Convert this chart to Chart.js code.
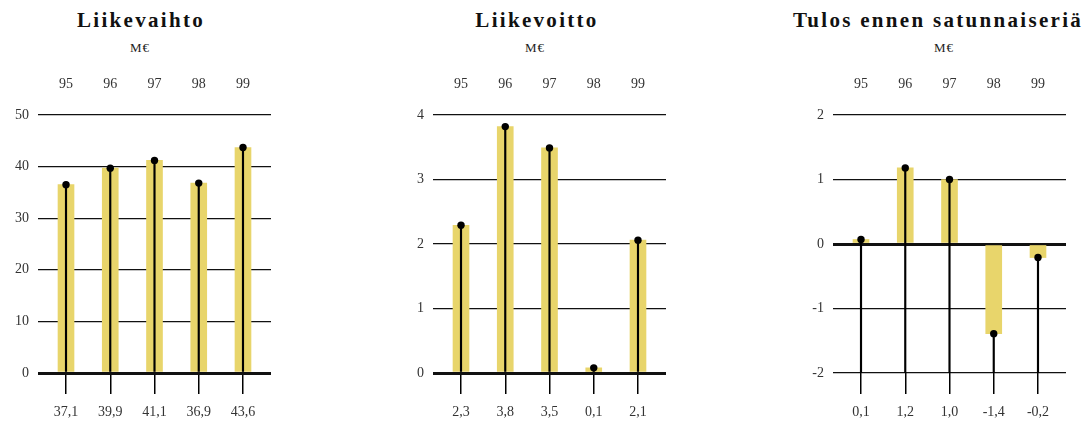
<!DOCTYPE html>
<html lang="fi">
<head>
<meta charset="utf-8">
<script src="https://cdn.jsdelivr.net/npm/chart.js@4.4.1/dist/chart.umd.min.js"></script>
<style>
body{margin:0;background:#fff;}
#pagina{position:relative;width:1088px;height:421px;overflow:hidden;font-family:"Liberation Serif",serif;}
.titulo{position:absolute;top:8px;transform:translateX(-50%);white-space:nowrap;font-weight:bold;font-size:21px;letter-spacing:2.3px;line-height:24px;color:#111;}
.unidade{position:absolute;top:41px;transform:translateX(-50%);font-size:13px;letter-spacing:1px;line-height:14px;color:#222;}
.painel{position:absolute;top:60px;width:280px;height:361px;}
</style>
</head>
<body>
<div id="pagina">
    <div class="titulo" style="left:141px">Liikevaihto</div>
    <div class="unidade" style="left:140px">M€</div>
    <div class="painel" style="left:0px"><canvas id="liikevaihto"></canvas></div>

    <div class="titulo" style="left:537px">Liikevoitto</div>
    <div class="unidade" style="left:535px">M€</div>
    <div class="painel" style="left:395px"><canvas id="liikevoitto"></canvas></div>

    <div class="titulo" style="left:938px">Tulos ennen satunnaiseriä</div>
    <div class="unidade" style="left:944px">M€</div>
    <div class="painel" style="left:795px"><canvas id="tulos"></canvas></div>
</div>

<script>
// ==========================================================
// Dados
// ==========================================================

const anos = ["95", "96", "97", "98", "99"];

const liikevaihto = [36.5, 39.7, 41.2, 36.8, 43.7];
const liikevaihtoRotulos = ["37,1", "39,9", "41,1", "36,9", "43,6"];

const liikevoitto = [2.29, 3.82, 3.49, 0.08, 2.06];
const liikevoittoRotulos = ["2,3", "3,8", "3,5", "0,1", "2,1"];

const tulos = [0.07, 1.18, 1.0, -1.39, -0.21];
const tulosRotulos = ["0,1", "1,2", "1,0", "-1,4", "-0,2"];

// ==========================================================
// Cores padrão
// ==========================================================

const CORES = {
    barra: "#e8d56b",
    preto: "#111111",
    texto: "#333333"
};

const FONTE = {family: "Liberation Serif", size: 14};

// ==========================================================
// Painel (barra + haste + ponto)
// ==========================================================

function criarPainel(id, valores, rotulos, yMin, yMax, passo){

    const pontos = valores.map((v, i)=>({x: i, y: v}));
    const hastes = valores.map((v, i)=>({x: i, y: [yMin, v]}));

    const ticksFixos = scale=>{
        scale.ticks = anos.map((_, i)=>({value: i}));
    };

    return new Chart(document.getElementById(id), {

        type: "bar",

        data: {
            datasets: [
                {
                    type: "scatter",
                    data: pontos,
                    pointRadius: 3.7,
                    pointBackgroundColor: "#000",
                    pointBorderWidth: 0,
                    clip: false,
                    order: 1
                },
                {
                    data: hastes,
                    backgroundColor: "#000",
                    barThickness: 1.5,
                    grouped: false,
                    order: 2
                },
                {
                    data: pontos,
                    backgroundColor: CORES.barra,
                    barThickness: 16,
                    grouped: false,
                    order: 3
                }
            ]
        },

        options: {

            responsive: true,
            maintainAspectRatio: false,
            animation: false,

            layout: {
                padding: {left: 0, right: 9, top: 0, bottom: 0}
            },

            plugins: {
                legend: {display: false},
                tooltip: {enabled: false}
            },

            scales: {

                x: {
                    type: "linear",
                    position: "bottom",
                    offset: false,
                    min: -0.633,
                    max: 4.633,
                    afterBuildTicks: ticksFixos,
                    afterFit: scale=>{ scale.height = 48; },
                    border: {display: false},
                    grid: {
                        offset: false,
                        drawOnChartArea: false,
                        drawTicks: true,
                        tickLength: 21,
                        color: "#000",
                        lineWidth: 1.5
                    },
                    ticks: {
                        padding: 10,
                        color: CORES.texto,
                        font: FONTE,
                        maxRotation: 0,
                        callback: v=>rotulos[v]
                    }
                },

                xTop: {
                    type: "linear",
                    position: "top",
                    offset: false,
                    min: -0.633,
                    max: 4.633,
                    afterBuildTicks: ticksFixos,
                    afterFit: scale=>{ scale.height = 55; },
                    border: {display: false},
                    grid: {display: false, drawTicks: false, offset: false},
                    ticks: {
                        padding: 22,
                        color: CORES.texto,
                        font: FONTE,
                        maxRotation: 0,
                        callback: v=>anos[v]
                    }
                },

                y: {
                    min: yMin,
                    max: yMax,
                    afterFit: scale=>{ scale.width = 38; },
                    border: {display: false},
                    grid: {
                        drawTicks: false,
                        color: CORES.preto,
                        lineWidth: ctx=>ctx.tick.value === 0 ? 3 : 1.3
                    },
                    ticks: {
                        stepSize: passo,
                        padding: 9,
                        color: CORES.texto,
                        font: FONTE
                    }
                }

            }

        }

    });

}

criarPainel("liikevaihto", liikevaihto, liikevaihtoRotulos, 0, 50, 10);
criarPainel("liikevoitto", liikevoitto, liikevoittoRotulos, 0, 4, 1);
criarPainel("tulos", tulos, tulosRotulos, -2, 2, 1);
</script>
</body>
</html>
